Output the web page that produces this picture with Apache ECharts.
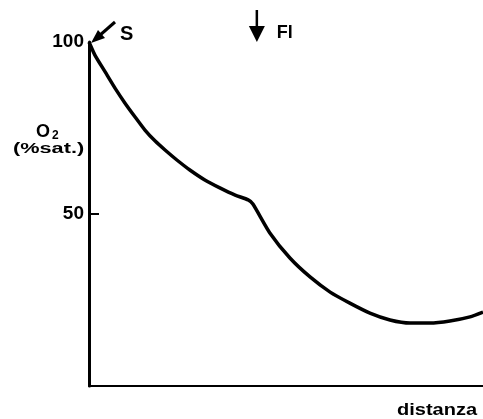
<!DOCTYPE html>
<html>
<head>
<meta charset="utf-8">
<script src="https://cdn.jsdelivr.net/npm/echarts@6/dist/echarts.min.js"></script>
<style>html,body{margin:0;padding:0;background:#fff}#c{width:483px;height:419px}</style>
</head>
<body>
<div id="c"></div>
<script>
// distance (arbitrary units, 0-100) and O2 saturation (%)
const distance = [0, 1.5, 4.1, 6.6, 9.1, 11.7, 14.2, 16.8, 19.3, 22.3, 25.6, 29.4, 33.2, 37.1, 40.4, 41.6,
                  45.9, 51.0, 56.1, 61.2, 66.2, 71.3, 76.4, 81.5, 86.5, 91.6, 96.7, 100];
const o2Sat    = [100, 96.2, 91.3, 86.6, 82.3, 78.2, 74.4, 71.2, 68.6, 65.7, 62.8, 59.9, 57.6, 55.5, 54.1, 52.9,
                  44.5, 37.2, 31.7, 27.3, 24.1, 21.2, 19.2, 18.3, 18.3, 18.9, 20.1, 21.5];
const yTickLabels = [50, 100];
const arrowS = [0, 100];
const arrowFl = [42.6, 100];

const chart = echarts.init(document.getElementById('c'));
const font = 'Liberation Sans, Arial, sans-serif';
chart.setOption({
  animation: false,
  backgroundColor: '#fff',
  grid: { left: 89, right: 0, top: 42, bottom: 33, containLabel: false },
  xAxis: {
    type: 'value', min: 0, max: 100,
    axisLine: { show: true, onZero: false, lineStyle: { color: '#000', width: 2 } },
    axisTick: { show: false }, axisLabel: { show: false }, splitLine: { show: false }
  },
  yAxis: {
    type: 'value', min: 0, max: 100, interval: 50,
    axisLine: { show: true, lineStyle: { color: '#000', width: 3 } },
    axisTick: { show: true, inside: true, length: 10, customValues: [50], lineStyle: { color: '#000', width: 2 } },
    axisLabel: { customValues: yTickLabels, color: '#000', fontSize: 19, fontWeight: 'bold', fontFamily: font, margin: 5 },
    splitLine: { show: false }
  },
  series: [{
    type: 'line',
    data: distance.map((d, i) => [d, o2Sat[i]]),
    smooth: 0.2,
    showSymbol: false,
    lineStyle: { color: '#000', width: 3.5, join: 'round' },
    clip: false
  }]
});

const s = chart.convertToPixel({ gridIndex: 0 }, arrowS);
const f = chart.convertToPixel({ gridIndex: 0 }, arrowFl);
const sx = s[0] + 2, sy = s[1] + 1;
chart.setOption({
  graphic: [
    { type: 'line', shape: { x1: sx + 24, y1: sy - 21, x2: sx + 8, y2: sy - 7 }, style: { stroke: '#000', lineWidth: 3 } },
    { type: 'polygon', shape: { points: [[sx, sy], [sx + 14, sy - 5], [sx + 7, sy - 13]] }, style: { fill: '#000' } },
    { type: 'text', left: sx + 29, top: sy - 19, style: { text: 'S', fontSize: 20, fontWeight: 'bold', fontFamily: font, fill: '#000' } },
    { type: 'line', shape: { x1: f[0], y1: f[1] - 32, x2: f[0], y2: f[1] - 12 }, style: { stroke: '#000', lineWidth: 2.5 } },
    { type: 'polygon', shape: { points: [[f[0], f[1]], [f[0] - 8, f[1] - 16], [f[0] + 8, f[1] - 16]] }, style: { fill: '#000' } },
    { type: 'text', left: f[0] + 20, top: f[1] - 18, style: { text: 'Fl', fontSize: 18, fontWeight: 'bold', fontFamily: font, fill: '#000' } },
    { type: 'text', left: 36, top: 123, style: { text: 'O', fontSize: 18, fontWeight: 'bold', fontFamily: font, fill: '#000' } },
    { type: 'text', left: 52, top: 130, style: { text: '2', fontSize: 12, fontWeight: 'bold', fontFamily: font, fill: '#000' } },
    { type: 'text', left: 13, top: 142, scaleX: 1.55, style: { text: '(%sat.)', fontSize: 14, fontWeight: 'bold', fontFamily: font, fill: '#000' } },
    { type: 'text', left: 397, top: 403, scaleX: 1.25, style: { text: 'distanza', fontSize: 16, fontWeight: 'bold', fontFamily: font, fill: '#000' } }
  ]
});
</script>
</body>
</html>
